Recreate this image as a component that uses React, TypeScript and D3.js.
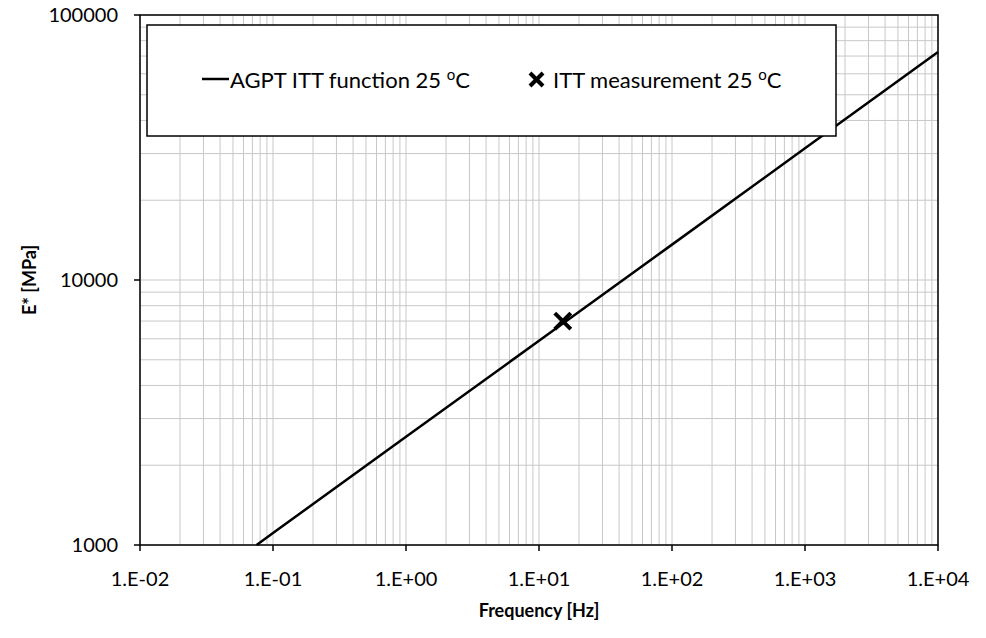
import React from "react";
import * as d3 from "d3";

const freqLine = [0.0753, 0.1, 1, 10, 100, 1000, 10000];
const eLine = [1000, 1110, 2560, 5900, 13600, 31400, 72500];
const measFreq = [15.1];
const measE = [7000];
const xTickVals = [0.01, 0.1, 1, 10, 100, 1000, 10000];
const xTickLabels = ["1.E-02", "1.E-01", "1.E+00", "1.E+01", "1.E+02", "1.E+03", "1.E+04"];
const yTickVals = [1000, 10000, 100000];
const yTickLabels = ["1000", "10000", "100000"];

export default function App() {
  const W = 986, H = 638;
  const L = 140, R = 938, T = 15, B = 545;
  const x = d3.scaleLog().domain([0.01, 10000]).range([L, R]);
  const y = d3.scaleLog().domain([1000, 100000]).range([B, T]);
  const font = "Lato, 'Open Sans', sans-serif";

  const xGrid: number[] = [];
  for (let e = -2; e < 4; e++) for (let m = 1; m <= 9; m++) xGrid.push(m * Math.pow(10, e));
  xGrid.push(10000);
  const yGrid: number[] = [];
  for (let e = 3; e < 5; e++) for (let m = 1; m <= 9; m++) yGrid.push(m * Math.pow(10, e));
  yGrid.push(100000);

  const line = d3.line<number>().x((_, i) => x(freqLine[i])).y((d) => y(d));
  const mx = x(measFreq[0]), my = y(measE[0]);
  const s = 8;

  return (
    <svg width={W} height={H} style={{ position: "absolute", left: 0, top: 0, background: "#fff" }}>
      <rect x={0} y={0} width={W} height={H} fill="#fff" />
      <g stroke="#c8c8c8" strokeWidth={1}>
        {xGrid.map((v, i) => (
          <line key={"xg" + i} x1={x(v)} x2={x(v)} y1={T} y2={B} />
        ))}
        {yGrid.map((v, i) => (
          <line key={"yg" + i} x1={L} x2={R} y1={y(v)} y2={y(v)} />
        ))}
      </g>
      <rect x={L} y={T} width={R - L} height={B - T} fill="none" stroke="#000" strokeWidth={1.5} />
      <g stroke="#000" strokeWidth={1.5}>
        {xTickVals.map((v, i) => (
          <line key={"xt" + i} x1={x(v)} x2={x(v)} y1={B} y2={B + 6} />
        ))}
        {yTickVals.map((v, i) => (
          <line key={"yt" + i} x1={L - 6} x2={L} y1={y(v)} y2={y(v)} />
        ))}
      </g>
      <g fontFamily={font} fontSize={20} fill="#000">
        {xTickVals.map((v, i) => (
          <text key={"xl" + i} x={x(v)} y={B + 41} textAnchor="middle">{xTickLabels[i]}</text>
        ))}
        {yTickVals.map((v, i) => (
          <text key={"yl" + i} x={L - 22} y={y(v) + 7} textAnchor="end">{yTickLabels[i]}</text>
        ))}
      </g>
      <path d={line(eLine) || ""} fill="none" stroke="#000" strokeWidth={2.5} />
      <g stroke="#000" strokeWidth={4} strokeLinecap="butt">
        <line x1={mx - s} y1={my - s} x2={mx + s} y2={my + s} />
        <line x1={mx - s} y1={my + s} x2={mx + s} y2={my - s} />
      </g>
      <rect x={147} y={25} width={689} height={111} fill="#fff" stroke="#000" strokeWidth={1.5} />
      <line x1={202} x2={229} y1={79} y2={79} stroke="#000" strokeWidth={2.5} />
      <text x={230} y={88} fontFamily={font} fontSize={22} fill="#000">
        AGPT ITT function 25 <tspan dy={-8} fontSize={15}>o</tspan><tspan dy={8}>C</tspan>
      </text>
      <g stroke="#000" strokeWidth={4}>
        <line x1={530} y1={73} x2={543} y2={86} />
        <line x1={530} y1={86} x2={543} y2={73} />
      </g>
      <text x={553} y={88} fontFamily={font} fontSize={22} fill="#000">
        ITT measurement 25 <tspan dy={-8} fontSize={15}>o</tspan><tspan dy={8}>C</tspan>
      </text>
      <text x={(L + R) / 2} y={617} textAnchor="middle" fontFamily={font} fontSize={18} fontWeight="bold">Frequency [Hz]</text>
      <text transform={`translate(36, ${(T + B) / 2}) rotate(-90)`} textAnchor="middle" fontFamily={font} fontSize={18} fontWeight="bold">E* [MPa]</text>
    </svg>
  );
}
